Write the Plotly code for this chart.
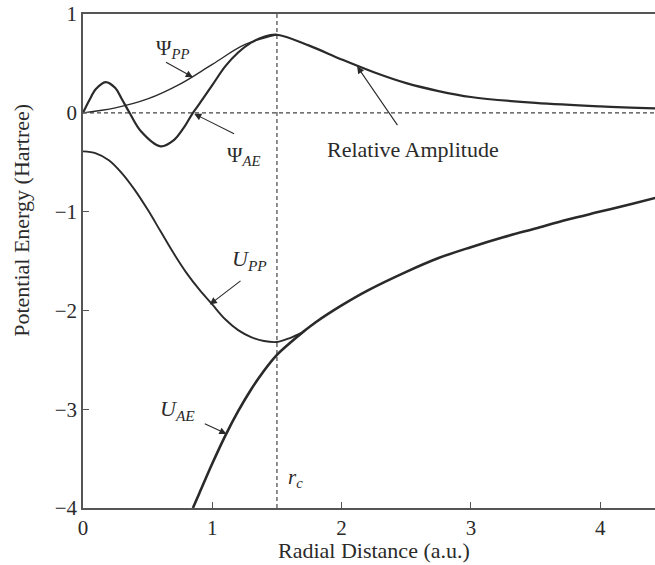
import plotly.graph_objects as go

# ---- data ----
psi_ae_x = [0, 0.05, 0.1, 0.175, 0.25, 0.3, 0.36, 0.45, 0.6, 0.7, 0.78, 0.85, 0.9, 1.0, 1.1, 1.2, 1.3, 1.4, 1.5,
            1.75, 2.0, 2.25, 2.5, 2.75, 3.0, 3.5, 4.0, 4.43]
psi_ae = [0, 0.13, 0.24, 0.31, 0.25, 0.14, 0, -0.19, -0.34, -0.28, -0.15, 0, 0.09, 0.28, 0.47, 0.61, 0.71, 0.77, 0.79,
          0.68, 0.54, 0.41, 0.30, 0.22, 0.16, 0.10, 0.065, 0.045]

psi_pp_x = [0, 0.25, 0.5, 0.75, 1.0, 1.25, 1.5]
psi_pp = [0, 0.05, 0.14, 0.29, 0.49, 0.69, 0.79]

u_ae_x = [0.85, 0.9, 1.0, 1.1, 1.2, 1.3, 1.4, 1.5, 1.6, 1.7, 1.8, 2.0, 2.2, 2.5, 2.75, 3.0, 3.25, 3.5, 3.75,
          4.0, 4.25, 4.43]
u_ae = [-4.0, -3.85, -3.55, -3.27, -3.02, -2.8, -2.61, -2.45, -2.33, -2.22, -2.12, -1.95, -1.80, -1.61, -1.47,
        -1.36, -1.26, -1.17, -1.08, -1.0, -0.92, -0.86]

u_pp_x = [0, 0.1, 0.2, 0.3, 0.4, 0.5, 0.6, 0.7, 0.8, 0.9, 1.0, 1.1, 1.2, 1.3, 1.4, 1.5, 1.6, 1.7]
u_pp = [-0.39, -0.41, -0.48, -0.61, -0.78, -0.98, -1.2, -1.42, -1.62, -1.79, -1.94, -2.09, -2.2, -2.27, -2.31,
        -2.32, -2.28, -2.22]

r_c = 1.5
x_ticks = [0, 1, 2, 3, 4]
y_ticks = [1, 0, -1, -2, -3, -4]

FONT = "Liberation Serif"
INK = "#2a2a2a"

fig = go.Figure()
fig.add_trace(go.Scatter(x=psi_pp_x, y=psi_pp, mode="lines", line=dict(color=INK, width=1.3, shape="spline")))
fig.add_trace(go.Scatter(x=u_pp_x, y=u_pp, mode="lines", line=dict(color=INK, width=1.9, shape="spline")))
fig.add_trace(go.Scatter(x=psi_ae_x, y=psi_ae, mode="lines", line=dict(color=INK, width=2.2, shape="spline")))
fig.add_trace(go.Scatter(x=u_ae_x, y=u_ae, mode="lines", line=dict(color=INK, width=2.6, shape="spline")))

# dashed reference lines
fig.add_shape(type="line", xref="paper", yref="y", x0=0, x1=1, y0=0, y1=0,
              line=dict(color="#444", width=1.2, dash="4px,3px"), layer="below")
fig.add_shape(type="line", xref="x", yref="paper", x0=r_c, x1=r_c, y0=0, y1=1,
              line=dict(color="#444", width=1.2, dash="4px,3px"), layer="below")

lab = dict(family=FONT, size=22, color=INK)

def arrow(xt, yt, xa, ya):
    fig.add_annotation(x=xt, y=yt, ax=xa, ay=ya, xref="x", yref="y", axref="x", ayref="y",
                       text="", showarrow=True, arrowhead=2, arrowsize=1.3, arrowwidth=1.1,
                       arrowcolor=INK, standoff=0)

def label(x, y, txt, size=22):
    fig.add_annotation(x=x, y=y, xref="x", yref="y", text=txt, showarrow=False,
                       xanchor="center", yanchor="middle",
                       font=dict(family=FONT, size=size, color=INK))

label(0.69, 0.65, "Ψ<sub><i>PP</i></sub>", 21)
arrow(0.85, 0.36, 0.63, 0.52)
label(1.24, -0.44, "Ψ<sub><i>AE</i></sub>", 21)
arrow(0.86, -0.01, 1.18, -0.22)
label(2.55, -0.37, "Relative Amplitude", 22)
arrow(2.12, 0.47, 2.44, -0.14)
label(1.29, -1.49, "<i>U</i><sub><i>PP</i></sub>", 22)
arrow(0.98, -1.94, 1.23, -1.69)
label(0.73, -3.01, "<i>U</i><sub><i>AE</i></sub>", 22)
arrow(1.11, -3.25, 0.93, -3.14)
label(1.64, -3.70, "<i>r</i><sub><i>c</i></sub>", 21)

# axis titles
fig.add_annotation(x=0.509, y=-0.087, xref="paper", yref="paper", text="Radial Distance (a.u.)",
                   xanchor="center", yanchor="middle", showarrow=False, font=lab)
fig.add_annotation(x=-0.107, y=0.583, xref="paper", yref="paper", text="Potential Energy (Hartree)",
                   xanchor="center", yanchor="middle", textangle=-90, showarrow=False, font=lab)

fig.update_layout(
    width=655, height=565,
    margin=dict(l=83, r=0, t=14, b=57),
    paper_bgcolor="white", plot_bgcolor="white",
    showlegend=False,
    font=dict(family=FONT, size=21, color=INK),
    xaxis=dict(range=[0, 4.424], tickvals=x_ticks, ticks="inside", ticklen=6, tickwidth=1.2,
               tickcolor="#555", showline=True, linecolor="#555", linewidth=1.6, mirror=True,
               showgrid=False, zeroline=False, tickfont=dict(family=FONT, size=21, color=INK)),
    yaxis=dict(range=[-4, 1], tickvals=y_ticks, ticks="inside", ticklen=6, tickwidth=1.2,
               tickcolor="#555", showline=True, linecolor="#555", linewidth=1.6,
               showgrid=False, zeroline=False, ticklabeloverflow="allow",
               tickfont=dict(family=FONT, size=21, color=INK)),
)

fig.write_html("out.html", config={"displayModeBar": False},
               post_script="document.body.style.margin='0';")
